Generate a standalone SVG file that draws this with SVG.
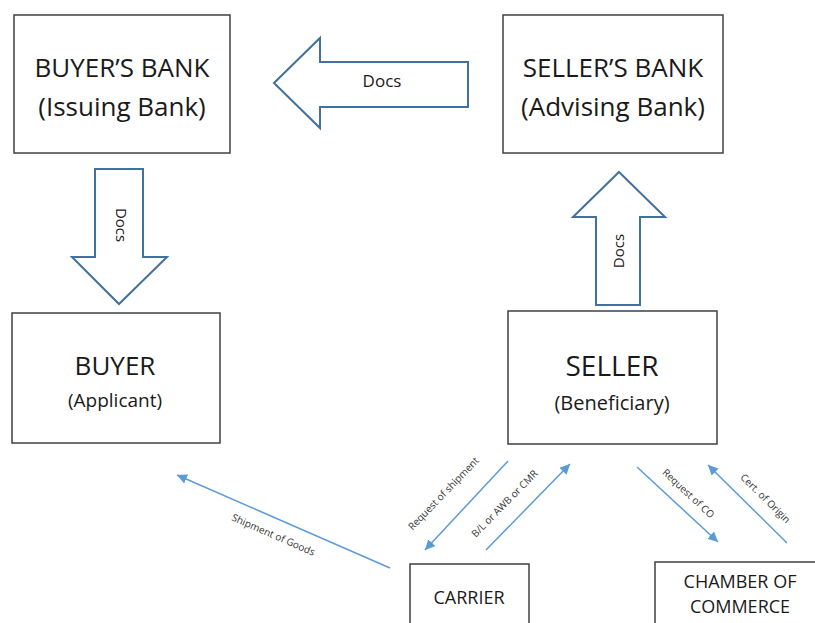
<svg xmlns="http://www.w3.org/2000/svg" width="815" height="623" viewBox="0 0 815 623">
<style>
.box{fill:#fff;stroke:#404040;stroke-width:1.5}
.blk{fill:#fff;stroke:#41719C;stroke-width:2;stroke-linejoin:miter}
.t{font-family:"Open Sans","Liberation Sans",sans-serif;fill:#1a1a1a;text-anchor:middle}
.con{stroke:#5B9BD5;stroke-width:1.5;fill:none;marker-end:url(#ah)}
.lbl{font-family:"Open Sans","Liberation Sans",sans-serif;font-size:10px;fill:#333;text-anchor:middle}
</style>
<defs>
<marker id="ah" markerUnits="userSpaceOnUse" markerWidth="11" markerHeight="10" refX="10" refY="5" orient="auto">
<path d="M0,0 L10,5 L0,10 z" fill="#5B9BD5"/>
</marker>
</defs>
<rect width="815" height="623" fill="#fff"/>
<g id="buyers-bank">
<rect class="box" x="14" y="15" width="216" height="138"/>
<text class="t" x="122" y="77" font-size="26">BUYER’S BANK</text>
<text class="t" x="122" y="116" font-size="26">(Issuing Bank)</text>
</g>
<g id="sellers-bank">
<rect class="box" x="503" y="15" width="220" height="138"/>
<text class="t" x="613" y="77" font-size="26">SELLER’S BANK</text>
<text class="t" x="613" y="116" font-size="26">(Advising Bank)</text>
</g>
<g id="buyer">
<rect class="box" x="12" y="313" width="208" height="130"/>
<text class="t" x="115" y="375" font-size="26">BUYER</text>
<text class="t" x="115" y="407" font-size="19">(Applicant)</text>
</g>
<g id="seller">
<rect class="box" x="508" y="311" width="209" height="133"/>
<text class="t" x="612" y="376" font-size="28">SELLER</text>
<text class="t" x="612" y="410" font-size="20">(Beneficiary)</text>
</g>
<g id="carrier">
<rect class="box" x="410" y="564" width="119" height="70"/>
<text class="t" x="469" y="604" font-size="18">CARRIER</text>
</g>
<g id="chamber">
<rect class="box" x="655" y="562" width="170" height="70"/>
<text class="t" x="740" y="588" font-size="18">CHAMBER OF</text>
<text class="t" x="740" y="613" font-size="18">COMMERCE</text>
</g>
<g id="connectors">
<g id="docs-left">
<polygon class="blk" points="274,83 320,38 320,62 468,62 468,107 320,107 320,128"/>
<text class="t" x="382" y="87" font-size="17">Docs</text>
</g>
<g id="docs-down">
<polygon class="blk" points="95,169 143,169 143,257 167,257 119,304 72,257 95,257"/>
<text class="t" font-size="15" transform="translate(116,225) rotate(90)">Docs</text>
</g>
<g id="docs-up">
<polygon class="blk" points="619,172 665,217 640,217 640,305 596,305 596,217 573,217"/>
<text class="t" font-size="15" transform="translate(624,251) rotate(-90)">Docs</text>
</g>
<line class="con" x1="390" y1="568" x2="177" y2="475"/>
<text class="lbl" transform="translate(272,538) rotate(23.6)">Shipment of Goods</text>
<line class="con" x1="508" y1="461" x2="425" y2="550"/>
<text class="lbl" transform="translate(446,496) rotate(-46)">Request of shipment</text>
<line class="con" x1="486" y1="550" x2="570" y2="464"/>
<text class="lbl" transform="translate(507,506) rotate(-45.5)">B/L or AWB or CMR</text>
<line class="con" x1="637" y1="467" x2="718" y2="542"/>
<text class="lbl" transform="translate(686,496) rotate(43)">Request of CO</text>
<line class="con" x1="787" y1="543" x2="708" y2="465"/>
<text class="lbl" transform="translate(763,501) rotate(44.6)">Cert. of Origin</text>
</g>
</svg>
